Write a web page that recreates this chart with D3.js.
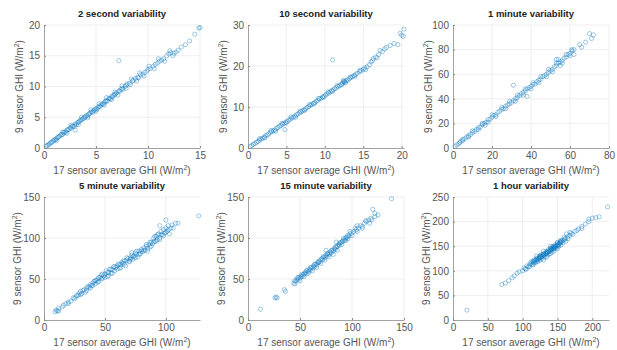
<!DOCTYPE html>
<html>
<head>
<meta charset="utf-8">
<script src="https://cdn.jsdelivr.net/npm/d3@7"></script>
<style>
html,body{margin:0;padding:0;background:#fff;}
svg{display:block;font-family:"Liberation Sans",Arial,Helvetica,sans-serif;}
</style>
</head>
<body>
<svg id="chart" width="617" height="350"></svg>
<script>
// ---- data ----
const titles = ["2 second variability","10 second variability","1 minute variability",
                "5 minute variability","15 minute variability","1 hour variability"];
const xDomains = [[0,15],[0,20.3],[0,80],[0,128],[0,150],[0,224]];
const yDomains = [[0,20],[0,30],[0,100],[0,150],[0,150],[0,250]];
const xTicks = [[0,5,10,15],[0,5,10,15,20],[0,20,40,60,80],[0,50,100],[0,50,100,150],[0,50,100,150,200]];
const yTicks = [[0,5,10,15,20],[0,10,20,30],[0,20,40,60,80,100],[0,50,100,150],[0,50,100,150],[0,50,100,150,200,250]];

const pts2s = [[0.2,0.3],[0.3,0.4],[0.4,0.5],[0.5,0.6],[0.6,0.8],[0.7,0.9],[0.8,1.0],[0.9,1.2],[1.0,1.3],[1.1,1.4],[1.2,1.5],[1.3,1.7],[1.4,1.8],[1.5,1.9],[1.6,2.1],[1.7,2.2],[1.8,2.2],[1.9,2.5],[2.0,2.6],[2.1,2.6],[2.2,2.9],[2.3,3.0],[2.4,3.0],[2.5,3.3],[2.6,3.2],[2.7,3.5],[2.8,3.6],[2.9,3.5],[3.0,3.9],[3.1,3.8],[3.0,2.9],[3.2,4.1],[3.3,4.2],[3.4,4.3],[3.5,4.5],[3.6,4.6],[3.7,4.7],[3.8,4.8],[3.9,5.0],[4.0,5.1],[4.1,5.3],[4.2,5.2],[4.3,5.5],[4.4,5.6],[4.5,5.8],[4.6,5.9],[4.7,5.8],[4.8,6.1],[4.9,6.3],[5.0,6.4],[5.1,6.3],[5.2,6.6],[5.3,6.8],[5.4,6.7],[5.5,7.0],[5.6,7.2],[5.7,7.1],[5.8,7.4],[5.9,7.6],[6.0,7.7],[6.1,7.6],[6.2,8.0],[6.3,8.1],[6.4,8.0],[6.5,8.4],[6.6,8.3],[6.7,8.6],[6.8,8.7],[6.9,8.8],[7.0,9.0],[7.2,14.2],[7.2,9.3],[7.3,9.2],[7.4,9.5],[7.5,9.7],[7.6,9.6],[7.8,10.0],[7.9,10.2],[8.0,10.4],[8.2,10.5],[8.3,10.3],[8.5,10.9],[8.6,11.0],[8.8,11.3],[9.0,11.5],[9.1,11.4],[9.3,11.9],[9.5,12.0],[9.7,12.3],[9.9,12.5],[10.0,12.8],[10.2,12.9],[10.5,13.3],[10.7,13.6],[10.9,13.8],[11.1,14.1],[11.3,14.3],[11.5,14.5],[11.8,15.0],[12.0,15.3],[12.2,15.5],[12.5,15.4],[12.7,15.6],[13.2,16.4],[13.6,16.8],[14.0,17.4],[14.5,18.5],[14.9,19.5],[15.0,19.6],
  [1.2,1.2],[1.8,2.6],[2.2,2.4],[2.6,3.7],[3.3,3.8],[3.6,5.0],[4.2,4.9],[4.5,6.2],[5.0,6.0],[5.3,7.2],[5.8,7.0],[6.0,8.2],[6.5,7.9],[6.8,9.1],[7.1,8.6],[7.5,10.1],[7.9,9.7],[8.4,11.2],[8.9,10.9],[9.2,12.2],[9.6,11.7],[10.1,13.3],[10.6,12.9],[11.0,14.5],[11.6,14.1],[12.1,15.8],[12.4,15.0],[12.9,15.9]];

const pts10s = [[0.3,0.4],[0.5,0.6],[0.7,0.9],[0.9,1.1],[1.1,1.4],[1.3,1.6],[1.5,1.9],[1.7,2.2],[1.9,2.4],[2.1,2.6],[2.3,3.0],[2.5,3.2],[2.7,3.4],[2.9,3.8],[3.1,4.0],[3.3,4.2],[3.5,4.4],[3.7,4.8],[3.9,5.0],[4.1,5.3],[4.3,5.5],[4.5,5.8],[4.7,6.0],[4.8,4.5],[4.9,6.3],[5.1,6.5],[5.3,6.8],[5.5,7.0],[5.7,7.3],[5.9,7.5],[6.1,7.8],[6.3,8.1],[6.5,8.3],[6.7,8.6],[6.9,8.8],[7.1,9.1],[7.3,9.3],[7.5,9.6],[7.7,9.9],[7.9,10.1],[8.1,10.4],[8.3,10.6],[8.5,10.9],[8.7,11.1],[8.9,11.4],[9.1,11.6],[9.3,12.0],[9.5,12.1],[9.7,12.5],[9.9,12.6],[10.1,12.9],[10.3,13.2],[10.5,13.4],[10.7,13.7],[10.9,14.0],[11.0,21.5],[11.1,14.2],[11.3,14.5],[11.5,14.7],[11.7,15.0],[11.9,15.2],[12.1,15.5],[12.3,15.8],[12.5,16.0],[12.6,16.2],[12.8,16.4],[13.0,16.6],[13.2,16.9],[13.4,17.2],[13.6,17.4],[13.8,17.7],[14.0,17.9],[14.2,18.2],[14.5,18.6],[14.7,18.8],[15.0,19.2],[15.2,19.5],[15.5,19.8],[15.8,20.3],[16.0,21.0],[16.3,21.8],[16.6,22.2],[17.0,22.8],[17.2,23.8],[17.5,23.5],[18.0,24.5],[18.5,25.0],[19.8,28.0],[20.0,27.5],[20.2,27.2],[20.3,29.0],
  [1.5,2.3],[2.2,2.5],[3.0,4.3],[3.6,4.1],[4.4,6.0],[5.0,6.1],[5.6,7.6],[6.2,7.5],[6.8,9.0],[7.4,9.2],[8.0,10.6],[8.6,10.8],[9.2,12.1],[9.8,12.3],[10.4,13.7],[11.0,13.8],[11.6,15.2],[12.2,15.4],[12.4,16.3],[12.7,15.9],[12.5,16.5],[13.3,17.3],[13.9,17.5],[14.6,19.0],[15.3,19.1],[16.2,21.3],[16.8,22.0],[17.8,24.2],[19.0,25.5],[19.5,25.2]];

const pts1m = [[1,1.5],[2,2.5],[3,3.5],[3.5,4.5],[4,5.5],[5,6],[6,7.5],[7,9],[8,10],[9,11],[10,12.5],[11,13.5],[12,15],[13,16.5],[14,17],[15,19],[16,20],[16.5,18.5],[17,21],[18,23],[19,23.5],[20,25],[21,26.5],[22,27],[23,29],[24,30],[25,31.5],[26,32],[27,34],[28,35],[29,36],[30,37],[31,51],[31,38.5],[32,40],[33,41],[34,42.5],[35,44],[36,45],[37,46.5],[38,42],[38,48],[39,49],[40,50],[41,51.5],[42,52],[43,54],[44,55],[45,56],[46,58],[47,59],[48,60],[49,61.5],[50,63],[51,64],[52,66],[53,67],[54,69],[55,70],[53,72],[56,71],[57,73],[58,74],[59,76],[60,77],[61,79],[62,80],[62,76],[65,84],[66,82],[68,86],[70,93],[72,92],[71,89],
  [5,7],[8,9],[10,14],[13,15],[15,20],[18,21],[20,27],[22,25.5],[25,33],[27,32],[29,38],[32,38],[33,43],[36,43],[37,48],[40,48],[41,53],[44,53],[45,58],[48,58],[49,64],[51,62],[53,69],[55,67],[54,72],[56,69],[58,76],[60,75],[61,80]];

const pts5m = [[9,10],[10,12],[11,11],[12,14],[15,16],[18,20],[20,22],[22,23],[24,27],[26,28],[28,30],[29,33],[30,35],[31,32],[33,37],[34,34],[35,39],[37,40],[38,43],[39,42],[40,45],[41,47],[42,44],[43,48],[44,50],[45,47],[46,52],[47,55],[48,51],[49,54],[50,56],[51,60],[52,53],[53,58],[54,62],[55,57],[56,61],[57,65],[58,60],[59,64],[60,66],[61,68],[62,63],[63,67],[64,70],[65,69],[66,72],[67,66],[68,73],[69,75],[70,71],[71,76],[72,79],[73,74],[74,78],[75,82],[76,80],[77,77],[78,84],[79,81],[80,86],[81,83],[82,88],[83,85],[84,90],[85,87],[86,92],[87,89],[88,95],[89,93],[90,100],[91,96],[92,102],[93,98],[94,105],[95,100],[96,108],[97,104],[98,110],[99,106],[100,112],[100,122],[101,108],[102,115],[103,105],[105,116],[108,118],[127,127],
  [12,11],[16,18],[20,20],[25,26],[27,30],[30,31],[32,36],[35,36],[36,41],[38,39],[40,42],[42,48],[44,46],[45,52],[47,50],[48,56],[50,52],[52,58],[53,54],[55,62],[56,57],[58,65],[60,62],[62,68],[63,64],[65,72],[66,68],[68,76],[70,72],[71,74],[72,82],[73,77],[75,76],[76,84],[78,80],[80,84],[82,85],[84,92],[85,84],[87,95],[88,90],[90,95],[91,102],[93,104],[95,98],[96,104],[98,103],[100,107],[102,110],[104,112],[106,112],[110,118],[95,115],[92,96]];

const pts15m = [[12,13],[26,27],[27,28],[28,27],[35,37],[36,35],[44,45],[45,48],[46,47],[47,50],[48,49],[49,52],[50,51],[51,54],[52,53],[53,55],[54,56],[55,58],[56,57],[57,60],[58,59],[59,62],[60,61],[61,64],[62,63],[63,66],[64,65],[65,68],[66,67],[67,70],[68,72],[69,71],[70,73],[71,75],[72,74],[73,77],[74,76],[75,79],[76,78],[77,81],[78,80],[79,83],[80,82],[81,85],[82,84],[83,87],[84,86],[85,89],[86,90],[87,92],[88,91],[89,94],[90,95],[91,96],[92,98],[93,97],[94,100],[95,101],[96,103],[97,102],[98,105],[100,106],[102,108],[104,110],[106,112],[108,115],[110,114],[112,118],[114,120],[116,122],[118,124],[120,135],[122,126],[125,128],[138,148],
  [45,44],[48,52],[50,48],[52,56],[54,53],[56,60],[58,57],[60,64],[62,60],[64,68],[66,64],[68,70],[70,69],[72,77],[74,73],[76,81],[78,77],[80,85],[82,80],[84,89],[86,85],[88,94],[90,92],[92,100],[94,97],[96,99],[98,108],[100,103],[103,112],[105,108],[110,112],[113,121],[117,118],[119,122],[122,130],[105,115],[85,95],[75,85]];

const pts1h = [[20,20],[70,72],[75,75],[80,80],[85,86],[88,90],[92,95],[95,98],[100,100],[102,106],[104,104],[106,110],[108,108],[110,112],[112,115],[114,113],[115,118],[116,116],[118,120],[119,122],[120,119],[120,130],[121,124],[122,122],[123,126],[124,125],[125,128],[126,127],[127,130],[128,129],[129,132],[130,131],[130,122],[130,140],[131,134],[132,133],[133,136],[134,135],[135,138],[135,128],[136,137],[137,140],[138,139],[139,142],[140,141],[140,135],[140,150],[141,144],[142,143],[143,146],[144,145],[145,148],[145,140],[146,147],[147,150],[148,149],[149,152],[150,151],[150,145],[151,154],[152,153],[153,156],[154,158],[155,157],[156,160],[158,162],[160,164],[162,166],[163,175],[165,170],[168,172],[170,176],[175,180],[180,185],[185,190],[190,195],[195,200],[200,207],[205,208],[210,210],[222,230],
  [105,103],[110,108],[112,118],[115,112],[117,122],[118,116],[120,125],[122,119],[124,129],[125,122],[127,133],[128,125],[130,135],[132,128],[134,139],[135,132],[137,143],[138,134],[140,146],[142,138],[143,149],[145,144],[147,153],[148,146],[150,156],[152,150],[154,160],[155,152],[158,158],[160,168],[162,160],[165,165],[168,178],[172,174],[178,182],[185,186],[195,205],[150,158],[145,150],[155,162],[142,146],[125,131],[115,120]];

const seriesData = [pts2s, pts10s, pts1m, pts5m, pts15m, pts1h];
const xLabel = "17 sensor average GHI (W/m";
const yLabel = "9 sensor GHI (W/m";

// ---- layout ----
const colLeft = [44, 248, 453];
const rowTop = [25, 197];
const pw = 156, ph = 123;
const svg = d3.select("#chart");

seriesData.forEach((pts, i) => {
  const c = i % 3, r = Math.floor(i / 3);
  const g = svg.append("g").attr("transform", `translate(${colLeft[c]},${rowTop[r]})`);
  const x = d3.scaleLinear().domain(xDomains[i]).range([0, pw]);
  const y = d3.scaleLinear().domain(yDomains[i]).range([ph, 0]);

  // grid
  g.append("g").selectAll("line").data(xTicks[i].filter(t => t > xDomains[i][0]))
    .join("line").attr("x1", d => x(d)).attr("x2", d => x(d)).attr("y1", 0).attr("y2", ph)
    .attr("stroke", "#ebebeb").attr("stroke-width", 0.8);
  g.append("g").selectAll("line").data(yTicks[i].filter(t => t > yDomains[i][0]))
    .join("line").attr("y1", d => y(d)).attr("y2", d => y(d)).attr("x1", 0).attr("x2", pw)
    .attr("stroke", "#ebebeb").attr("stroke-width", 0.8);

  // points
  g.append("g").selectAll("circle").data(pts).join("circle")
    .attr("cx", d => x(d[0])).attr("cy", d => y(d[1])).attr("r", 2.1)
    .attr("fill", "none").attr("stroke", "#0072BD").attr("stroke-opacity", 0.42).attr("stroke-width", 0.9);

  // axes
  const ax = g.append("g").attr("transform", `translate(0,${ph})`)
    .call(d3.axisBottom(x).tickValues(xTicks[i]).tickSizeInner(-2).tickSizeOuter(0).tickPadding(4).tickFormat(d3.format("d")));
  const ay = g.append("g")
    .call(d3.axisLeft(y).tickValues(yTicks[i]).tickSizeInner(-2).tickSizeOuter(0).tickPadding(4).tickFormat(d3.format("d")));
  [ax, ay].forEach(a => {
    a.select(".domain").attr("stroke", "#8a8a8a").attr("stroke-width", 0.8);
    a.selectAll(".tick line").attr("stroke", "#8a8a8a");
    a.selectAll(".tick text").attr("fill", "#555").style("font-size", "10px");
  });

  // title
  g.append("text").attr("x", pw / 2).attr("y", -8).attr("text-anchor", "middle")
    .attr("font-weight", "bold").attr("font-size", "9.5px").attr("fill", "#222").text(titles[i]);

  // x label
  const xl = g.append("text").attr("x", pw / 2).attr("y", ph + 26).attr("text-anchor", "middle")
    .attr("font-size", "10px").attr("fill", "#555");
  xl.append("tspan").text(xLabel);
  xl.append("tspan").attr("dy", -4).attr("font-size", "7px").text("2");
  xl.append("tspan").attr("dy", 4).text(")");

  // y label
  const yl = g.append("text").attr("transform", `translate(${r === 0 ? -21 : -23},${ph / 2}) rotate(-90)`)
    .attr("text-anchor", "middle").attr("font-size", "10px").attr("fill", "#555");
  yl.append("tspan").text(yLabel);
  yl.append("tspan").attr("dy", -4).attr("font-size", "7px").text("2");
  yl.append("tspan").attr("dy", 4).text(")");
});
</script>
</body>
</html>
